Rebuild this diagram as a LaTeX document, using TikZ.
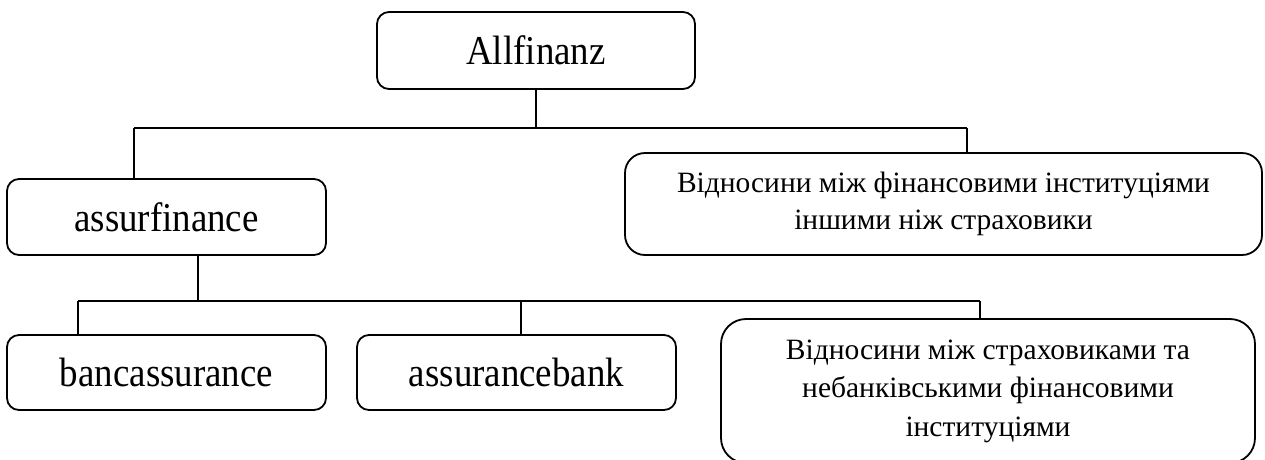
\documentclass[tikz,border=0pt]{standalone}
\usepackage{fontspec}
\setmainfont{Liberation Serif}[FakeStretch=0.9]
\newfontfamily\uafont{Liberation Serif}
\begin{document}
\begin{tikzpicture}[x=1pt,y=-1pt,
  box/.style={draw=black,line width=1.8pt,rounded corners=12pt,inner sep=0pt,
    align=center,font=\fontsize{41}{45}\selectfont},
  relbox/.style={box,font=\uafont\fontsize{29.5}{36.5}\selectfont},
  link/.style={draw=black,line width=1.5pt}]
\useasboundingbox (0,0) rectangle (1265,459);
\clip (0,0) rectangle (1265,459);

% tree of boxes
\node[box,minimum width=318pt,minimum height=77pt] (all) at (536,50.5) {Allfinanz};
\node[box,minimum width=319pt,minimum height=76pt] (af) at (166.5,217) {assurfinance};
\node[relbox,rounded corners=20pt,minimum width=637pt,minimum height=102pt] (rel1) at (943.5,204)
  {Відносини між фінансовими інституціями\\іншими ніж страховики};
\node[box,minimum width=319pt,minimum height=75pt] (banc) at (166.5,372.5) {bancassurance};
\node[box,minimum width=319pt,minimum height=75pt] (ab) at (516.5,372.5) {assurancebank};
\node[relbox,font=\uafont\fontsize{29.5}{38.5}\selectfont,rounded corners=25pt,minimum width=534pt,minimum height=144pt] (rel2) at (988,391)
  {Відносини між страховиками та\\небанківськими фінансовими\\інституціями};

% upper bus
\coordinate (b1l) at (134,128);
\coordinate (b1r) at (967,128);
\draw[link] (all.south) -- (all.south |- b1l);
\draw[link] (b1l) -- (b1r);
\draw[link] (b1l) -- (b1l |- af.north);
\draw[link] (b1r) -- (b1r |- rel1.north);

% lower bus
\coordinate (b2l) at (78,301);
\coordinate (b2r) at (980,301);
\coordinate (b2m) at (198,301);
\coordinate (b2c) at (521,301);
\draw[link] (b2m |- af.south) -- (b2m);
\draw[link] (b2l) -- (b2r);
\draw[link] (b2l) -- (b2l |- banc.north);
\draw[link] (b2c) -- (b2c |- ab.north);
\draw[link] (b2r) -- (b2r |- rel2.north);
\end{tikzpicture}
\end{document}
